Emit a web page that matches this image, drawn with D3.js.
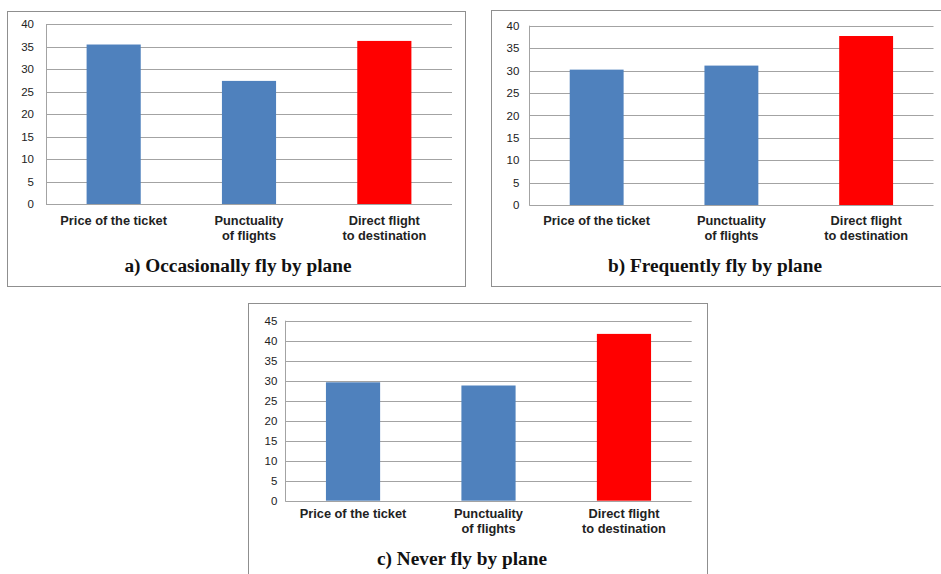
<!DOCTYPE html>
<html>
<head>
<meta charset="utf-8">
<script src="https://cdn.jsdelivr.net/npm/d3@7"></script>
<style>
  html, body { margin: 0; padding: 0; background: #ffffff; }
  svg { display: block; }
</style>
</head>
<body>
<svg id="chart" width="941" height="574"></svg>
<script>
// Factors passengers consider when choosing an airline, by flying habit (%)
const categories = [
  ["Price of the ticket"],
  ["Punctuality", "of flights"],
  ["Direct flight", "to destination"]
];
const occasionallyValues = [35.5, 27.4, 36.3];
const frequentlyValues   = [30.2, 31.1, 37.7];
const neverValues        = [29.6, 28.8, 41.7];

const ticks40 = [0, 5, 10, 15, 20, 25, 30, 35, 40];
const ticks45 = [0, 5, 10, 15, 20, 25, 30, 35, 40, 45];

const titles = [
  "a) Occasionally fly by plane",
  "b) Frequently fly by plane",
  "c) Never fly by plane"
];

// Styling
const BLUE = "#4f81bd";
const RED = "#ff0000";
const barColors = [BLUE, BLUE, RED];
const GRID = "#a3a3a3";
const FRAME = "#8f8f8f";

const svg = d3.select("#chart");

function drawPanel(opts) {
  const g = svg.append("g");

  // panel frame
  g.append("rect")
    .attr("x", opts.box[0] + 0.5).attr("y", opts.box[1] + 0.5)
    .attr("width", opts.box[2] - opts.box[0]).attr("height", opts.box[3] - opts.box[1])
    .attr("fill", "#fff").attr("stroke", FRAME).attr("stroke-width", 1);

  const [x0, y0, x1, y1] = opts.plot;
  const idx = categories.map((d, i) => i);

  const x = d3.scaleBand().domain(idx).range([x0, x1]).paddingInner(0.6).paddingOuter(0.3);
  const y = d3.scaleLinear().domain([0, d3.max(opts.ticks)]).range([y1, y0]);

  // horizontal gridlines
  g.append("g").selectAll("line").data(opts.ticks.filter(t => t > 0)).join("line")
    .attr("x1", x0).attr("x2", x1)
    .attr("y1", d => Math.round(y(d)) + 0.5).attr("y2", d => Math.round(y(d)) + 0.5)
    .attr("stroke", GRID).attr("stroke-width", 1);

  // y axis labels
  const yAxis = d3.axisLeft(y).tickValues(opts.ticks).tickSize(0).tickPadding(opts.tickPad);
  const ya = g.append("g").attr("transform", `translate(${x0},0)`).call(yAxis);
  ya.select(".domain").remove();
  ya.selectAll("text")
    .attr("font-family", "'Liberation Sans', Arial, sans-serif")
    .attr("font-size", 11.5).attr("fill", "#222");

  // bars
  g.append("g").selectAll("rect").data(opts.values).join("rect")
    .attr("x", (d, i) => x(i))
    .attr("width", x.bandwidth())
    .attr("y", d => y(d))
    .attr("height", d => y(0) - y(d))
    .attr("fill", (d, i) => barColors[i]);

  // axis lines
  g.append("line")
    .attr("x1", Math.round(x0) + 0.5).attr("x2", Math.round(x0) + 0.5)
    .attr("y1", y0).attr("y2", Math.round(y1) + 0.5)
    .attr("stroke", GRID);
  g.append("line")
    .attr("x1", x0).attr("x2", x1)
    .attr("y1", Math.round(y1) + 0.5).attr("y2", Math.round(y1) + 0.5)
    .attr("stroke", GRID);

  // category labels
  const labels = g.append("g").selectAll("text").data(categories).join("text")
    .attr("x", (d, i) => x(i) + x.bandwidth() / 2)
    .attr("y", y1 + opts.labelOffset)
    .attr("text-anchor", "middle")
    .attr("font-family", "'Liberation Sans', Arial, sans-serif")
    .attr("font-weight", "bold")
    .attr("font-size", 12.8)
    .attr("fill", "#222");
  labels.selectAll("tspan").data(d => d).join("tspan")
    .attr("x", function () { return d3.select(this.parentNode).attr("x"); })
    .attr("dy", (d, i) => i === 0 ? 0 : 15)
    .text(d => d);

  // panel title
  g.append("text")
    .attr("x", opts.titlePos[0]).attr("y", opts.titlePos[1])
    .attr("text-anchor", "middle")
    .attr("font-family", "'Liberation Serif', 'Times New Roman', serif")
    .attr("font-weight", "bold")
    .attr("font-size", 19.3)
    .attr("fill", "#111")
    .text(opts.title);
}

drawPanel({
  box: [7, 11, 465, 286],
  plot: [46, 24.3, 452, 204],
  ticks: ticks40,
  values: occasionallyValues,
  tickPad: 12,
  labelOffset: 20.5,
  title: titles[0],
  titlePos: [238, 271.5]
});

drawPanel({
  box: [491, 10, 948, 286],
  plot: [529.3, 25.7, 933.5, 205],
  ticks: ticks40,
  values: frequentlyValues,
  tickPad: 10,
  labelOffset: 19.5,
  title: titles[1],
  titlePos: [715, 271.5]
});

drawPanel({
  box: [248, 303, 707, 590],
  plot: [285.3, 320.7, 691.7, 500.7],
  ticks: ticks45,
  values: neverValues,
  tickPad: 8,
  labelOffset: 17,
  title: titles[2],
  titlePos: [462, 564.5]
});
</script>
</body>
</html>
